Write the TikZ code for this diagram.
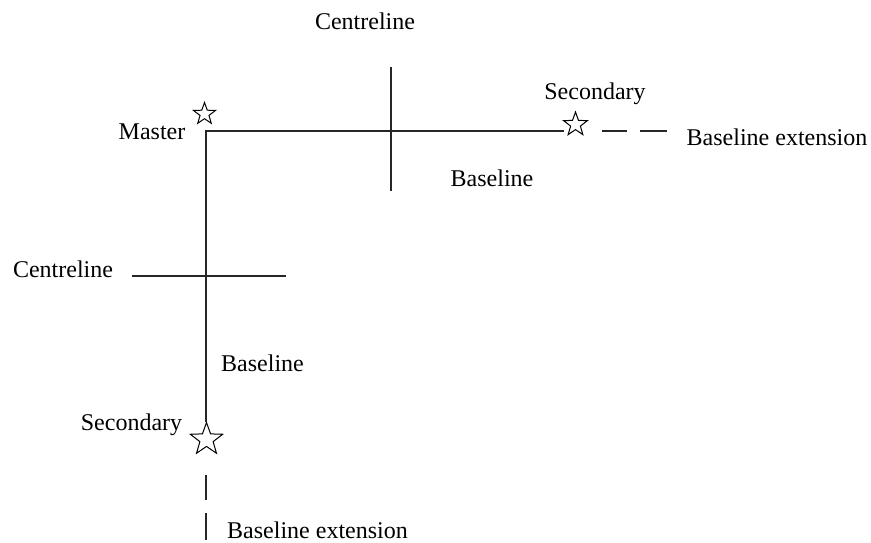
\documentclass[tikz,border=0pt]{standalone}
\usepackage{fontspec}
\setmainfont{Liberation Serif}
\usetikzlibrary{shapes.geometric}
\begin{document}
\begin{tikzpicture}[x=1pt,y=-1pt,
  line/.style={line width=1.1pt, black!85},
  ext/.style={line width=1.1pt, black!85},
  lbl/.style={font=\fontsize{24}{28}\selectfont, inner sep=0pt, anchor=base},
  mark star/.style={star, star points=5, star point ratio=2.45, draw, line width=1pt,
    inner sep=0pt, minimum size=#1}]
\useasboundingbox (0,0) rectangle (871,542);

% station markers
\node[mark star=23pt] (master) at (204.5,114) {};
\node[mark star=25pt] (secA) at (575.5,124.5) {};
\node[mark star=34pt] (secB) at (206.5,439.5) {};

% baseline corner and line ends
\coordinate (corner) at (206,131);
\coordinate (endA) at (564,131);
\coordinate (endB) at (206,422);

% baselines
\draw[line] (endA) -- (corner) -- (endB);

% baseline extensions
\coordinate (extA1) at (602,131);
\coordinate (extA2) at (627,131);
\coordinate (extA3) at (640,131);
\coordinate (extA4) at (667,131);
\draw[ext] (extA1) -- (extA2) (extA3) -- (extA4);
\coordinate (extB1) at (206,475);
\coordinate (extB2) at (206,500);
\coordinate (extB3) at (206,513);
\coordinate (extB4) at (206,540);
\draw[ext] (extB1) -- (extB2) (extB3) -- (extB4);

% centrelines
\coordinate (clA1) at (391,67);
\coordinate (clA2) at (391,191);
\draw[line] (clA1) -- (clA2);
\coordinate (clB1) at (132,276);
\coordinate (clB2) at (286,276);
\draw[line] (clB1) -- (clB2);

% labels
\node[lbl] (tCentreA) at (365,29.5) {Centreline};
\node[lbl] (tSecA) at (595,99) {Secondary};
\node[lbl] (tMaster) at (152,139.5) {Master};
\node[lbl] (tExtA) at (777,145.5) {Baseline extension};
\node[lbl] (tBaseA) at (492,186) {Baseline};
\node[lbl] (tCentreB) at (63,277) {Centreline};
\node[lbl] (tBaseB) at (262.5,371) {Baseline};
\node[lbl] (tSecB) at (131.5,430) {Secondary};
\node[lbl] (tExtB) at (317.5,538) {Baseline extension};
\end{tikzpicture}
\end{document}
